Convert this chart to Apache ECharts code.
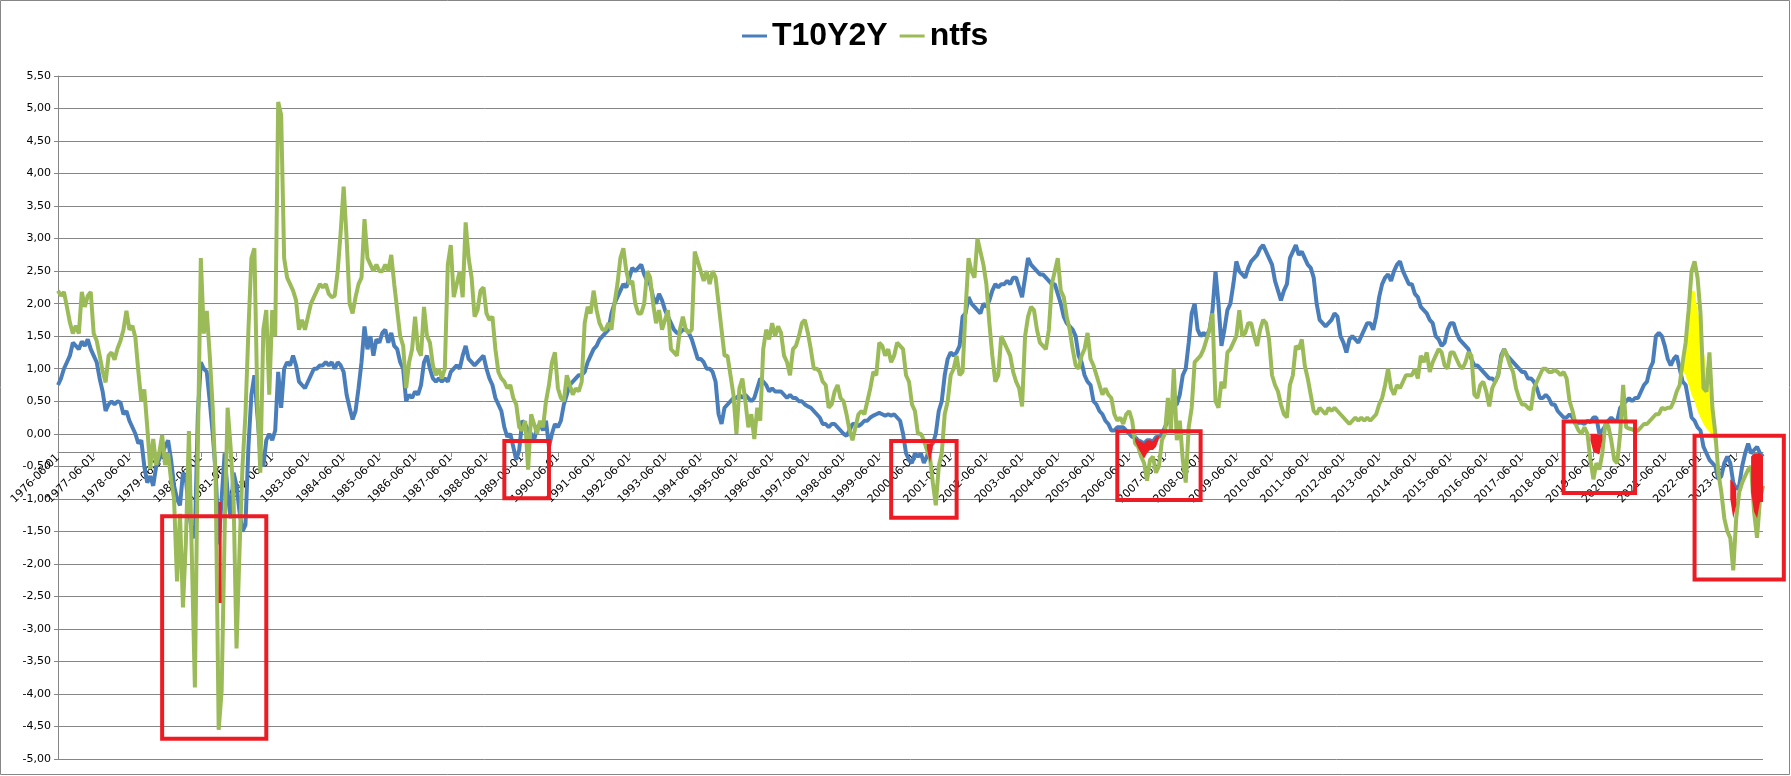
<!DOCTYPE html>
<html>
<head>
<meta charset="utf-8">
<script src="https://cdn.jsdelivr.net/npm/echarts@6.0.0/dist/echarts.min.js"></script>
<style>
    html, body { margin: 0; padding: 0; background: #ffffff; }
    #spreadChart { width: 1791px; height: 776px; }
</style>
</head>
<body>
<div id="spreadChart"></div>
<script>
// monthly categories, 1976-06 .. 2024-03
var startYear = 1976, startMonth = 6, endYear = 2024, endMonth = 3;

// T10Y2Y, one row per year (1976 starts in June, 2024 ends in March)
var t10y2y = [
    0.75, 0.85, 1.0, 1.1, 1.2, 1.4, 1.35,
    1.3, 1.42, 1.35, 1.45, 1.3, 1.2, 1.1, 0.85, 0.65, 0.35, 0.45, 0.5,
    0.45, 0.5, 0.48, 0.3, 0.35, 0.2, 0.1, 0.0, -0.15, -0.1, -0.5, -0.75,
    -0.65, -0.8, -0.5, -0.4, -0.3, -0.2, -0.1, -0.4, -0.8, -1.0, -1.1, -0.6,
    -0.7, -1.2, -1.5, -1.6, 0.3, 1.1, 1.0, 0.95, 0.5, 0.0, -0.6, -1.7,
    -1.0, -0.3, -0.9, -1.3, -0.6, -0.8, -1.2, -1.5, -1.4, -0.2, 0.6, 0.9,
    0.3, -0.3, -0.5, -0.1, 0.0, -0.1, 0.05, 0.95, 0.4, 1.0, 1.1, 1.05,
    1.2, 1.05, 0.8, 0.75, 0.7, 0.8, 0.9, 1.0, 1.0, 1.05, 1.05, 1.1,
    1.05, 1.1, 1.0, 1.1, 1.05, 0.95, 0.6, 0.4, 0.22, 0.35, 0.7, 1.1,
    1.65, 1.3, 1.5, 1.2, 1.45, 1.4, 1.55, 1.6, 1.4, 1.55, 1.35, 1.3,
    1.1, 1.0, 0.5, 0.6, 0.55, 0.65, 0.6, 0.75, 1.1, 1.2, 1.0, 0.85,
    0.8, 0.85, 0.8, 0.85, 0.8, 0.95, 1.0, 1.05, 1.0, 1.2, 1.35, 1.15,
    1.1, 1.05, 1.1, 1.15, 1.2, 1.0, 0.85, 0.75, 0.55, 0.45, 0.35, 0.1,
    -0.05, 0.0, -0.2, -0.4, -0.25, 0.2, 0.15, 0.05, 0.0, -0.1, 0.1, 0.15,
    0.05, 0.2, -0.2, 0.0, 0.15, 0.1, 0.2, 0.45, 0.6, 0.75, 0.8, 0.85,
    0.9, 0.9, 0.95, 1.1, 1.2, 1.3, 1.35, 1.45, 1.5, 1.55, 1.6, 1.85,
    2.0, 2.1, 2.2, 2.3, 2.25, 2.4, 2.55, 2.5, 2.55, 2.6, 2.45, 2.35,
    2.3, 2.1, 2.0, 2.15, 2.05, 1.9, 1.8, 1.7, 1.6, 1.55, 1.55, 1.6,
    1.6, 1.55, 1.45, 1.3, 1.15, 1.15, 1.1, 1.0, 1.0, 0.95, 0.8, 0.3,
    0.15, 0.4, 0.45, 0.5, 0.55, 0.55, 0.6, 0.55, 0.6, 0.55, 0.5, 0.55,
    0.7, 0.85, 0.8, 0.75, 0.65, 0.7, 0.65, 0.65, 0.65, 0.6, 0.55, 0.6,
    0.55, 0.55, 0.5, 0.5, 0.45, 0.42, 0.4, 0.35, 0.3, 0.25, 0.15, 0.15,
    0.1, 0.15, 0.15, 0.1, 0.05, 0.0, -0.03, 0.05, 0.15, 0.15, 0.12, 0.15,
    0.2, 0.2, 0.25, 0.28, 0.3, 0.32, 0.3, 0.28, 0.3, 0.28, 0.3, 0.25,
    0.2, 0.0, -0.3, -0.4, -0.45, -0.3, -0.35, -0.3, -0.45, -0.35, -0.2, -0.15,
    0.0, 0.35, 0.5, 0.9, 1.15, 1.25, 1.2, 1.25, 1.35, 1.8, 1.85, 2.1,
    2.0, 1.95, 1.9, 1.85, 2.0, 1.95, 2.05, 2.2, 2.3, 2.25, 2.3, 2.3,
    2.35, 2.3, 2.4, 2.4, 2.25, 2.1, 2.4, 2.7, 2.6, 2.55, 2.5, 2.45,
    2.45, 2.4, 2.35, 2.3, 2.3, 2.15, 2.0, 1.8, 1.7, 1.65, 1.6, 1.5,
    1.2, 1.1, 0.9, 0.8, 0.75, 0.5, 0.45, 0.35, 0.3, 0.2, 0.15, 0.05,
    0.05, 0.1, 0.1, 0.1, 0.05, 0.0, -0.05, -0.05, -0.1, -0.12, -0.15, -0.1,
    -0.1, -0.12, -0.05, -0.05, 0.0, 0.1, 0.2, 0.3, 0.45, 0.45, 0.6, 0.9,
    1.0, 1.4, 1.85, 2.0, 1.6, 1.5, 1.55, 1.5, 1.6, 1.9, 2.5, 2.0,
    1.35, 1.6, 1.9, 2.0, 2.3, 2.65, 2.5, 2.45, 2.4, 2.55, 2.65, 2.7,
    2.75, 2.85, 2.9, 2.8, 2.7, 2.6, 2.35, 2.2, 2.05, 2.2, 2.3, 2.7,
    2.8, 2.9, 2.75, 2.8, 2.7, 2.6, 2.55, 2.4, 2.0, 1.75, 1.7, 1.65,
    1.7, 1.75, 1.85, 1.8, 1.5, 1.4, 1.25, 1.45, 1.5, 1.45, 1.4, 1.5,
    1.6, 1.7, 1.7, 1.6, 1.8, 2.1, 2.3, 2.4, 2.45, 2.35, 2.5, 2.6,
    2.65, 2.5, 2.4, 2.3, 2.3, 2.15, 2.1, 1.95, 1.9, 1.85, 1.75, 1.7,
    1.5, 1.45, 1.35, 1.4, 1.6, 1.7, 1.7, 1.55, 1.45, 1.4, 1.35, 1.3,
    1.15, 1.05, 1.05, 1.0, 0.95, 0.9, 0.85, 0.85, 0.8, 0.9, 1.2, 1.3,
    1.2, 1.15, 1.1, 1.05, 1.0, 0.95, 0.95, 0.85, 0.85, 0.8, 0.7, 0.55,
    0.55, 0.6, 0.55, 0.45, 0.45, 0.35, 0.3, 0.25, 0.25, 0.3, 0.25, 0.15,
    0.17, 0.17, 0.15, 0.2, 0.18, 0.25, 0.25, 0.0, 0.05, 0.12, 0.2, 0.25,
    0.2, 0.2, 0.4, 0.45, 0.5, 0.55, 0.5, 0.55, 0.55, 0.65, 0.75, 0.8,
    1.0, 1.1, 1.5, 1.55, 1.5, 1.35, 1.15, 1.05, 1.15, 1.2, 1.0, 0.8,
    0.75, 0.5, 0.25, 0.2, 0.1, 0.05, -0.2, -0.3, -0.4, -0.45, -0.5, -0.7,
    -0.65, -0.45, -0.35, -0.45, -0.75, -0.85, -0.8, -0.5, -0.3, -0.15, -0.3, -0.25,
    -0.2, -0.3, -0.35
];

// ntfs, same layout
var ntfs = [
    2.2, 2.12, 2.18, 1.95, 1.71, 1.54, 1.66,
    1.54, 2.18, 1.95, 2.12, 2.18, 1.54, 1.43, 1.2, 0.96, 0.79, 1.2, 1.25,
    1.14, 1.31, 1.43, 1.6, 1.89, 1.6, 1.66, 1.48, 0.96, 0.5, 0.68, 0.1,
    -0.54, -0.08, -0.48, -0.3, -0.02, -0.48, -0.3, -0.71, -1.0, -2.27, -1.23, -2.67,
    -1.63, 0.04, -1.92, -3.9, -0.2, 2.7, 1.54, 1.89, 1.2, 0.39, -0.77, -4.55,
    -3.95, -1.5, 0.4, -0.2, -1.0, -3.3, -1.8, -0.5, 0.3, 1.6, 2.7, 2.85,
    0.5, -0.6, 1.6, 1.9, 0.6, 1.9, 1.5, 5.1, 4.9, 2.7, 2.4, 2.3,
    2.2, 2.05, 1.6, 1.75, 1.6, 1.8, 2.0, 2.1, 2.2, 2.3, 2.25, 2.3,
    2.15, 2.1, 2.12, 2.5, 3.1, 3.8, 3.0, 2.0, 1.85, 2.1, 2.3, 2.4,
    3.3, 2.7, 2.6, 2.5, 2.6, 2.5, 2.5, 2.6, 2.5, 2.75, 2.3, 1.9,
    1.5, 1.35, 0.7, 1.1, 1.3, 1.8, 1.3, 1.2, 1.95, 1.5, 1.4, 1.05,
    0.9, 1.0, 0.85, 1.0, 2.6, 2.9, 2.1, 2.3, 2.5, 2.1, 3.25, 2.7,
    2.4, 1.8, 1.9, 2.2, 2.25, 1.85, 1.75, 1.8, 1.3, 0.95, 0.85, 0.8,
    0.7, 0.75, 0.55, 0.45, 0.1, 0.05, 0.2, -0.55, 0.3, 0.15, 0.0, 0.2,
    0.1, 0.5, 0.75, 1.1, 1.25, 0.7, 0.55, 0.5, 0.9, 0.75, 0.6, 0.7,
    0.65, 0.8, 1.7, 1.95, 1.85, 2.2, 1.9, 1.7, 1.6, 1.6, 1.7, 1.6,
    2.0, 2.3, 2.7, 2.85, 2.5, 2.3, 2.35, 2.0, 1.85, 1.85, 2.0, 2.5,
    2.4, 2.0, 1.7, 1.9, 1.6, 1.75, 1.9, 1.3, 1.25, 1.2, 1.6, 1.8,
    1.6, 1.55, 1.6, 2.8, 2.65, 2.5, 2.35, 2.5, 2.3, 2.5, 2.4, 2.0,
    1.6, 1.2, 1.2, 0.9, 0.6, 0.0, 0.7, 0.85, 0.5, 0.1, 0.3, -0.08,
    0.4, 0.2, 1.3, 1.6, 1.45, 1.7, 1.5, 1.65, 1.55, 1.2, 1.1, 0.9,
    1.3, 1.35, 1.5, 1.7, 1.75, 1.55, 1.3, 1.0, 1.0, 0.95, 0.8, 0.75,
    0.4, 0.45, 0.65, 0.75, 0.55, 0.5, 0.3, 0.05, -0.1, 0.1, 0.3, 0.35,
    0.3, 0.5, 0.7, 0.95, 0.9, 1.4, 1.35, 1.2, 1.3, 1.1, 1.2, 1.4,
    1.35, 1.3, 0.9, 0.8, 0.45, 0.35, 0.0, 0.0, -0.1, -0.25, -0.35, -0.75,
    -1.1, -0.5, -0.3, 0.3, 0.5, 0.9, 1.0, 1.2, 0.9, 0.95, 1.9, 2.7,
    2.5, 2.4, 3.0, 2.8, 2.6, 2.3, 1.7, 1.2, 0.8, 0.9, 1.5, 1.4,
    1.3, 1.2, 0.95, 0.8, 0.7, 0.42, 1.5, 1.8, 1.95, 1.9, 1.6, 1.4,
    1.35, 1.3, 1.6, 2.3, 2.5, 2.7, 2.2, 2.1, 1.8, 1.6, 1.3, 1.05,
    1.0, 1.2, 1.3, 1.55, 1.15, 1.05, 0.9, 0.75, 0.6, 0.7, 0.6, 0.55,
    0.3, 0.2, 0.25, 0.15, 0.3, 0.35, 0.2, -0.15, -0.2, -0.35, -0.45, -0.72,
    -0.4, -0.35, -0.6, -0.5, -0.1, 0.0, 0.55, 0.05, 1.0, -0.1, 0.2, -0.4,
    -0.75, 0.1, 0.4, 1.1, 1.15, 1.2, 1.3, 1.45, 1.6, 1.85, 0.5, 0.4,
    0.8, 0.7, 1.25, 1.3, 1.4, 1.5, 1.9, 1.5, 1.55, 1.7, 1.7, 1.5,
    1.35, 1.6, 1.75, 1.7, 1.45, 0.9, 0.75, 0.65, 0.45, 0.3, 0.25, 0.75,
    0.9, 1.35, 1.3, 1.45, 1.05, 0.85, 0.6, 0.35, 0.3, 0.4, 0.35, 0.3,
    0.4, 0.35, 0.4, 0.35, 0.3, 0.25, 0.2, 0.15, 0.2, 0.25, 0.2, 0.25,
    0.2, 0.25, 0.2, 0.25, 0.3, 0.45, 0.55, 0.75, 1.0, 0.7, 0.6, 0.75,
    0.7, 0.8, 0.9, 0.9, 0.9, 1.0, 0.85, 1.2, 1.1, 1.25, 0.95, 1.1,
    1.2, 1.3, 1.25, 1.05, 1.0, 1.25, 1.25, 1.15, 1.05, 1.0, 1.1, 1.25,
    1.2, 0.6, 0.55, 0.75, 0.8, 0.65, 0.42, 0.7, 0.8, 0.9, 1.15, 1.3,
    1.2, 1.05, 0.95, 0.7, 0.55, 0.45, 0.45, 0.4, 0.37, 0.7, 0.8, 0.9,
    1.0, 1.0, 0.95, 0.95, 0.98, 0.95, 0.9, 0.95, 0.85, 0.5, 0.35, 0.15,
    0.05, 0.0, 0.1, 0.0, -0.4, -0.7, -0.45, -0.55, -0.3, 0.15, 0.12, -0.1,
    -0.4, -0.45, 0.0, 0.75, 0.1, 0.08, 0.07, 0.04, 0.05, 0.1, 0.15, 0.15,
    0.2, 0.25, 0.3, 0.3, 0.4, 0.38, 0.4, 0.4, 0.5, 0.65, 0.75, 1.1,
    1.4, 1.9, 2.5, 2.65, 2.4, 1.85, 0.7, 0.65, 1.25, 0.4, 0.0, -0.6,
    -0.9, -1.3, -1.5, -1.6, -2.1, -1.3, -0.9, -0.75, -0.65, -0.55, -0.5, -1.2,
    -1.6, -1.0, -0.8
];

// red shaded pieces (low / high edge per month)
var redDates = ['1980-12', '1981-01', '2000-10', '2000-11', '2000-12',
    '2006-08', '2006-09', '2006-10', '2006-11', '2006-12', '2007-01', '2007-02', '2007-03', '2007-04',
    '2019-05', '2019-06', '2019-07', '2019-08', '2019-09',
    '2023-04', '2023-05', '2023-06', '2023-11', '2023-12', '2024-01', '2024-02', '2024-03'];
var redLow = [-2.6, -2.6, -0.22, -0.45, -0.22,
    -0.12, -0.22, -0.3, -0.38, -0.3, -0.25, -0.25, -0.2, -0.08,
    -0.1, -0.28, -0.3, -0.32, -0.1,
    -1.0, -1.3, -1.1, -0.9, -1.2, -1.3, -1.05, -1.05];
var redHigh = [-1.05, -1.05, -0.15, -0.15, -0.15,
    -0.05, -0.1, -0.12, -0.15, -0.1, -0.1, -0.12, -0.05, -0.03,
    0.0, 0.0, 0.0, -0.02, 0.0,
    -0.7, -0.75, -0.85, -0.35, -0.3, -0.3, -0.3, -0.35];

// yellow shaded piece
var yellowDates = ['2021-12', '2022-01', '2022-02', '2022-03', '2022-04', '2022-05',
    '2022-06', '2022-07', '2022-08', '2022-09', '2022-10', '2022-11'];
var yellowLow = [0.98, 0.9, 0.75, 0.6, 0.5, 0.35, 0.25, 0.15, 0.08, 0.03, -0.05, -0.2];
var yellowHigh = [1.0, 1.2, 1.6, 2.2, 2.2, 1.9, 1.7, 1.3, 0.98, 0.65, 0.3, -0.15];

// red frames drawn over the chart
var boxStart = ['1979-05', '1988-12', '1999-10', '2006-02', '2018-08', '2022-04'];
var boxEnd = ['1982-04', '1990-03', '2001-08', '2008-06', '2020-08', '2024-10'];
var boxTop = [-1.27, -0.11, -0.11, 0.04, 0.19, -0.03];
var boxBottom = [-4.69, -0.99, -1.29, -1.02, -0.91, -2.24];

var months = [];
for (var y = startYear, m = startMonth; y * 12 + m <= endYear * 12 + endMonth; m++) {
    if (m > 12) { m = 1; y++; }
    months.push(y + '-' + (m < 10 ? '0' + m : m) + '-01');
}

function monthIndex(d) {
    var p = d.split('-');
    return (+p[0] - startYear) * 12 + (+p[1] - startMonth);
}

function band(dates, low, high) {
    var base = [], delta = [];
    for (var i = 0; i < months.length; i++) { base.push(null); delta.push(null); }
    for (var j = 0; j < dates.length; j++) {
        var k = monthIndex(dates[j]);
        base[k] = low[j];
        delta[k] = +(high[j] - low[j]).toFixed(3);
    }
    return [base, delta];
}

var redBand = band(redDates, redLow, redHigh);
var yellowBand = band(yellowDates, yellowLow, yellowHigh);

function isJune(index, value) {
    return value.slice(5) === '06-01';
}

function bandSeries(name, stack, data, color, z, withArea) {
    var s = {
        name: name,
        type: 'line',
        stack: stack,
        stackStrategy: 'all',
        data: data,
        symbol: 'none',
        lineStyle: { opacity: 0 },
        z: z,
        silent: true
    };
    if (withArea) s.areaStyle = { color: color, opacity: 1 };
    return s;
}

var spreadChart = echarts.init(document.getElementById('spreadChart'));
var spreadOption = {
    animation: false,
    backgroundColor: '#ffffff',
    legend: {
        data: ['T10Y2Y', 'ntfs'],
        left: 737,
        top: 15,
        icon: 'rect',
        itemWidth: 25,
        itemHeight: 3,
        itemGap: 12,
        textStyle: {
            fontSize: 32,
            fontWeight: 'bold',
            fontFamily: 'Liberation Sans',
            color: '#000000'
        }
    },
    grid: {
        left: 58,
        right: 28,
        top: 76,
        bottom: 17
    },
    xAxis: {
        type: 'category',
        data: months,
        boundaryGap: false,
        axisLine: {
            onZero: false,
            lineStyle: { color: '#868686', width: 1 }
        },
        axisTick: {
            show: true,
            interval: isJune,
            length: 5,
            lineStyle: { color: '#868686' }
        },
        axisLabel: {
            interval: isJune,
            rotate: 45,
            margin: 4,
            fontSize: 11,
            fontFamily: 'DejaVu Sans',
            color: '#000000'
        },
        splitLine: { show: false }
    },
    yAxis: {
        type: 'value',
        min: -5,
        max: 5.5,
        interval: 0.5,
        axisLine: {
            show: true,
            lineStyle: { color: '#868686', width: 1 }
        },
        axisTick: {
            show: true,
            length: 4,
            lineStyle: { color: '#868686' }
        },
        axisLabel: {
            margin: 7,
            fontSize: 11,
            fontFamily: 'DejaVu Sans',
            color: '#000000',
            formatter: function (v) {
                return v.toFixed(2).replace('.', ',');
            }
        },
        splitLine: {
            lineStyle: { color: '#868686', width: 1 }
        }
    },
    series: [
        bandSeries('yellowBase', 'yellow', yellowBand[0], '#FFFF00', 1, false),
        bandSeries('yellowFill', 'yellow', yellowBand[1], '#FFFF00', 1, true),
        {
            name: 'T10Y2Y',
            type: 'line',
            data: t10y2y,
            symbol: 'none',
            z: 2,
            itemStyle: { color: '#4A7EBB' },
            lineStyle: { color: '#4A7EBB', width: 4 }
        },
        {
            name: 'ntfs',
            type: 'line',
            data: ntfs,
            symbol: 'none',
            z: 2,
            itemStyle: { color: '#9BBB59' },
            lineStyle: { color: '#9BBB59', width: 4 }
        },
        bandSeries('redBase', 'red', redBand[0], '#EE1D23', 3, false),
        bandSeries('redFill', 'red', redBand[1], '#EE1D23', 3, true)
    ]
};

spreadChart.setOption(spreadOption);

function yAt(v) {
    return spreadChart.convertToPixel({ yAxisIndex: 0 }, v);
}

// category axis crosses the value axis at 0, like the spreadsheet
spreadChart.setOption({ xAxis: { offset: -(yAt(-5) - yAt(0)) } });

// frames: edges placed through the chart's own axes
var last = months.length - 1;
var p0 = spreadChart.convertToPixel({ xAxisIndex: 0, yAxisIndex: 0 }, [0, 0]);
var p1 = spreadChart.convertToPixel({ xAxisIndex: 0, yAxisIndex: 0 }, [last, 0]);
function xAt(d) {
    return p0[0] + (p1[0] - p0[0]) * monthIndex(d) / last;
}

var frames = [{
    type: 'rect',
    shape: { x: 0.5, y: 0.5, width: 1789, height: 774 },
    style: { fill: 'none', stroke: '#868686', lineWidth: 1 },
    silent: true
}];
for (var b = 0; b < boxStart.length; b++) {
    var x1 = xAt(boxStart[b]), x2 = xAt(boxEnd[b]);
    var yTop = yAt(boxTop[b]), yBot = yAt(boxBottom[b]);
    frames.push({
        type: 'rect',
        z: 100,
        shape: { x: x1, y: yTop, width: x2 - x1, height: yBot - yTop },
        style: { fill: 'none', stroke: '#ED1C24', lineWidth: 4 },
        silent: true
    });
}
spreadChart.setOption({ graphic: frames });
</script>
</body>
</html>
